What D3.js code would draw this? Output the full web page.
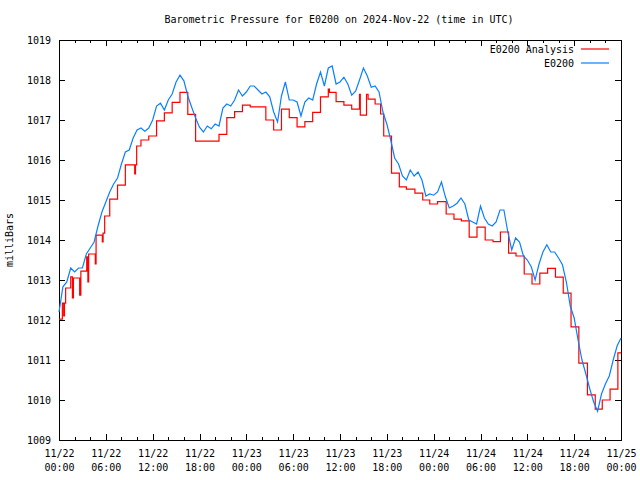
<!DOCTYPE html>
<html><head><meta charset="utf-8">
<script src="https://cdn.jsdelivr.net/npm/d3@7"></script>
<style>
body{margin:0;background:#fff}
svg text{font-family:"DejaVu Sans Mono","Liberation Mono",monospace;font-size:10px;fill:#000}
</style>
</head><body>
<svg id="chart" width="640" height="480"></svg>
<script>
// ---------- data ----------
const chartTitle = "Barometric Pressure for E0200 on 2024-Nov-22 (time in UTC)";
const yAxisLabel = "milliBars";
const seriesNames = ["E0200 Analysis", "E0200"];
const startUTC = "2024-11-22T00:00:00Z";
const spanHours = 72;
const yTickValues = [1009,1010,1011,1012,1013,1014,1015,1016,1017,1018,1019];

// E0200 observations, one every 30 minutes from the start
const stepMinutes = 30;
const e0200Values = [
  1012.2,1012.83,1012.95,1013.3,1013.2,1013.3,1013.3,1013.65,1013.8,1013.95,
  1014.35,1014.7,1014.95,1015.2,1015.4,1015.55,1015.9,1016.2,1016.25,1016.55,
  1016.75,1016.8,1016.72,1016.8,1017.0,1017.35,1017.42,1017.25,1017.5,1017.65,
  1017.95,1018.12,1017.98,1017.6,1017.32,1017.05,1016.82,1016.7,1016.85,1016.78,
  1016.9,1016.85,1017.3,1017.4,1017.35,1017.5,1017.75,1017.6,1017.7,1017.85,
  1017.85,1017.75,1017.65,1017.7,1017.58,1017.2,1016.95,1017.6,1017.95,1017.5,
  1017.5,1017.45,1017.1,1017.45,1017.55,1017.5,1017.9,1018.2,1017.85,1018.3,
  1018.35,1017.9,1017.95,1018.07,1017.9,1017.62,1017.72,1018.0,1018.3,1018.1,
  1017.82,1017.85,1017.7,1017.2,1016.9,1016.5,1016.05,1015.9,1015.6,1015.5,
  1015.75,1015.6,1015.7,1015.5,1015.1,1015.15,1015.12,1015.2,1015.45,1015.08,
  1014.8,1014.85,1014.92,1015.05,1014.9,1014.5,1014.45,1014.4,1014.85,1014.55,
  1014.4,1014.35,1014.45,1014.75,1014.75,1014.2,1013.75,1014.05,1013.95,1013.6,
  1013.5,1013.33,1013.0,1013.4,1013.7,1013.88,1013.7,1013.7,1013.55,1013.38,
  1012.95,1012.35,1012.05,1011.5,1011.0,1010.65,1010.28,1009.95,1009.72,1010.15,
  1010.4,1010.6,1011.0,1011.35,1011.55
];

// E0200 Analysis: hours since start at which each level begins, and the level
const analysisHours = [0,0.43,0.6,0.7,0.85,1.5,1.72,1.85,2.65,2.8,3.55,3.7,3.8,4.65,4.75,5.55,5.65,5.85,
  6.5,7.5,8.5,9.7,9.8,9.95,10.5,11.5,12.5,13.5,14.5,15.5,16.5,17.5,20.5,21.5,22.5,23.5,24.5,
  26.5,27.5,28.5,29.5,30.5,31.5,32.5,33.5,34.5,34.65,35.5,36.5,37.5,38.5,38.6,39.4,39.6,40.5,41.2,41.6,
  42.6,43.6,44.5,45.6,46.6,47.5,48.5,49.6,50.6,51.55,52.55,53.55,54.6,55.6,56.55,57.6,58.55,59.6,60.6,
  61.6,62.6,63.6,64.6,65.6,66.6,67.7,68.7,69.6,70.6,71.6,72];
const analysisValues = [1012.02,1012.42,1012.1,1012.42,1012.8,1013.08,1012.55,1013.05,1012.62,1013.22,
  1013.58,1012.95,1013.65,1013.4,1014.12,1013.95,1014.17,1014.6,
  1015.02,1015.37,1015.88,1015.65,1015.88,1016.35,1016.5,1016.6,1016.98,1017.18,1017.44,1017.69,1017.14,1016.47,
  1016.64,1017.06,1017.21,1017.37,1017.33,
  1017.0,1016.75,1017.27,1017.06,1016.83,1016.96,1017.19,1017.58,1017.77,1017.69,1017.46,1017.37,1017.27,
  1017.64,1017.12,1017.64,1017.52,1017.4,1017.15,1016.6,
  1015.67,1015.33,1015.27,1015.17,1015.0,1014.9,1014.96,1014.65,1014.52,1014.48,1014.07,1014.32,1014.0,
  1013.96,1014.2,1013.67,1013.6,1013.15,1012.9,1013.17,1013.29,1013.07,1012.67,1011.83,1010.92,
  1010.13,1009.77,1010.0,1010.27,1011.18,1011.18];

// ---------- drawing ----------
const svg = d3.select("#chart");
const plot = {left:59, right:621, top:40, bottom:440};
const t0 = new Date(startUTC);
const atHour = h => new Date(t0.getTime() + h*3600e3);

const x = d3.scaleUtc().domain([t0, atHour(spanHours)]).range([plot.left, plot.right]);
const y = d3.scaleLinear().domain([1009, 1019]).range([plot.bottom, plot.top]);

svg.append("rect").attr("width",640).attr("height",480).attr("fill","#fff");

// title
svg.append("text").attr("x", 339).attr("y", 23).attr("text-anchor","middle").text(chartTitle);
// y label
svg.append("text").attr("transform","translate(13,240) rotate(-90)").attr("text-anchor","middle").text(yAxisLabel);

function styleAxis(g){
  g.select(".domain").remove();
  g.selectAll(".tick line").attr("stroke","#000").attr("shape-rendering","crispEdges");
  g.selectAll("text").attr("font-size",null).attr("font-family",null);
}

// bottom axis: major (6h) and minor (2h) ticks
const bottomMajor = svg.append("g").attr("transform",`translate(0,${plot.bottom})`)
  .call(d3.axisBottom(x).ticks(d3.utcHour.every(6)).tickSizeInner(-6).tickSizeOuter(0).tickPadding(10)
    .tickFormat(d3.utcFormat("%m/%d")));
styleAxis(bottomMajor);
bottomMajor.selectAll(".tick text").each(function(d){
  const t = d3.select(this);
  t.text(null).attr("y", 0);
  t.append("tspan").attr("x",0).attr("y",17).text(d3.utcFormat("%m/%d")(d));
  t.append("tspan").attr("x",0).attr("y",31).text(d3.utcFormat("%H:%M")(d));
}).attr("dy",null);
const bottomMinor = svg.append("g").attr("transform",`translate(0,${plot.bottom})`)
  .call(d3.axisBottom(x).ticks(d3.utcHour.every(2)).tickSizeInner(-3).tickSizeOuter(0).tickFormat(""));
styleAxis(bottomMinor);

// top axis
const topMajor = svg.append("g").attr("transform",`translate(0,${plot.top})`)
  .call(d3.axisTop(x).ticks(d3.utcHour.every(6)).tickSizeInner(-6).tickSizeOuter(0).tickFormat(""));
styleAxis(topMajor);
const topMinor = svg.append("g").attr("transform",`translate(0,${plot.top})`)
  .call(d3.axisTop(x).ticks(d3.utcHour.every(2)).tickSizeInner(-3).tickSizeOuter(0).tickFormat(""));
styleAxis(topMinor);

// left axis
const leftAxis = svg.append("g").attr("transform",`translate(${plot.left},0)`)
  .call(d3.axisLeft(y).tickValues(yTickValues).tickSizeInner(-6).tickSizeOuter(0).tickPadding(8)
    .tickFormat(d3.format("d")));
styleAxis(leftAxis);
// right axis
const rightAxis = svg.append("g").attr("transform",`translate(${plot.right},0)`)
  .call(d3.axisRight(y).tickValues(yTickValues).tickSizeInner(-6).tickSizeOuter(0).tickFormat(""));
styleAxis(rightAxis);

// frame
svg.append("rect").attr("x",plot.left+0.5).attr("y",plot.top+0.5)
  .attr("width",plot.right-plot.left).attr("height",plot.bottom-plot.top)
  .attr("fill","none").attr("stroke","#000").attr("shape-rendering","crispEdges");

// series
const analysisData = analysisHours.map((h,i)=>({t:atHour(h), v:analysisValues[i]}));
const e0200Data = e0200Values.map((v,i)=>({t:new Date(t0.getTime()+i*stepMinutes*60e3), v}));

const colors = ["#ff0000", "#0a80ff"];
svg.append("path").datum(analysisData)
  .attr("fill","none").attr("stroke",colors[0]).attr("stroke-width",1.2)
  .attr("d", d3.line().x(d=>x(d.t)).y(d=>y(d.v)).curve(d3.curveStepAfter));
svg.append("path").datum(e0200Data)
  .attr("fill","none").attr("stroke",colors[1]).attr("stroke-width",1.2)
  .attr("d", d3.line().x(d=>x(d.t)).y(d=>y(d.v)));

// legend
const legend = svg.append("g");
seriesNames.forEach((name,i)=>{
  const ly = 49 + i*14;
  legend.append("text").attr("x",574).attr("y",ly+4).attr("text-anchor","end").text(name);
  legend.append("line").attr("x1",581).attr("x2",609).attr("y1",ly).attr("y2",ly)
    .attr("stroke",colors[i]).attr("stroke-width",1.2);
});
</script>
</body></html>
